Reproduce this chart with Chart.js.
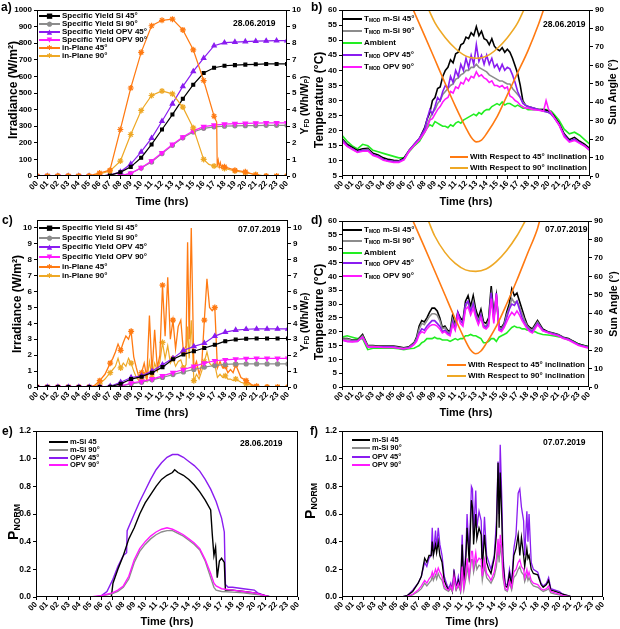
<!DOCTYPE html>
<html>
<head>
<meta charset="utf-8">
<script src="https://cdn.jsdelivr.net/npm/chart.js@4.4.1/dist/chart.umd.min.js"></script>
<style>
  body { margin: 0; background: #fff; }
  #fig { position: relative; width: 620px; height: 629px; overflow: hidden; background: #fff;
         font-family: Arial, "Liberation Sans", sans-serif; font-weight: bold; color: #000; }
  #fig canvas { position: absolute; }
  .t { position: absolute; white-space: nowrap; line-height: 1; }
  .v { transform: translate(-50%, -50%) rotate(-90deg); }
  .h { transform: translate(-50%, -50%); }
  .r { transform: translateY(-50%); }
  sub { font-size: 62%; vertical-align: -0.25em; line-height: 0; }
</style>
</head>
<body>
<div id="fig">
  <canvas id="ca" width="310" height="207" style="left:0;top:0"></canvas>
  <canvas id="cb" width="310" height="207" style="left:310px;top:0"></canvas>
  <canvas id="cc" width="310" height="208" style="left:0;top:207px"></canvas>
  <canvas id="cd" width="310" height="208" style="left:310px;top:207px"></canvas>
  <canvas id="ce" width="310" height="214" style="left:0;top:415px"></canvas>
  <canvas id="cf" width="310" height="214" style="left:310px;top:415px"></canvas>
</div>
<script>
// ---- tick labels / categories ----
const hourLabels = ['00','01','02','03','04','05','06','07','08','09','10','11','12',
                    '13','14','15','16','17','18','19','20','21','22','23','00'];
const hours = [0,1,2,3,4,5,6,7,8,9,10,11,12,13,14,15,16,17,18,19,20,21,22,23,24];
const yTicksC = [0,1,2,3,4,5,6,7,8,9,10];

const yieldLabels = ['Specific Yield Si 45°','Specific Yield Si 90°','Specific Yield OPV 45°',
                     'Specific Yield OPV 90°','in-Plane 45°','in-Plane 90°'];
const tempLabels = ['T<sub>MOD</sub> m-Si 45°','T<sub>MOD</sub> m-Si 90°','Ambient',
                    'T<sub>MOD</sub> OPV 45°','T<sub>MOD</sub> OPV 90°'];
const sunLabels = ['With Respect to 45° inclination','With Respect to 90° inclination'];
const powerLabels = ['m-Si 45','m-Si 90°','OPV 45°','OPV 90°'];
const dates = ['28.06.2019','07.07.2019'];

// ---- a) 28.06 yields (right axis) and in-plane irradiance (left axis) ----
const yieldSi45A  = [0,0,0,0,0,0,0,0.05,0.22,0.55,1.1,1.9,2.8,3.7,4.65,5.5,6.2,6.52,6.64,6.68,6.71,6.73,6.75,6.75,6.75];
const yieldSi90A  = [0,0,0,0,0,0,0,0,0.03,0.15,0.48,0.85,1.35,1.85,2.3,2.65,2.87,2.96,3.0,3.02,3.03,3.04,3.05,3.05,3.05];
const yieldOpv45A = [0,0,0,0,0,0,0,0.05,0.25,0.72,1.45,2.28,3.3,4.35,5.4,6.3,7.1,7.85,8.03,8.07,8.1,8.12,8.14,8.15,8.15];
const yieldOpv90A = [0,0,0,0,0,0,0,0,0.03,0.16,0.5,0.9,1.4,1.9,2.35,2.72,2.97,3.06,3.12,3.15,3.17,3.19,3.2,3.2,3.2];
const irrTime45A = [0,1,2,3,4,5,5.5,6,7,8,9,10,11,12,13,14,15,16,17,17.25,17.3,17.4,17.5,17.6,17.7,17.8,18,19,20,21,22,23,24];
const irr45A     = [0,0,0,0,0,0,10,18,35,280,530,745,905,938,945,880,760,575,360,325,60,95,55,80,50,65,55,35,25,6,0,0,0];
const irrTime90A = [0,1,2,3,4,5,5.5,6,7,8,9,10,11,12,13,14,15,16,16.5,17,18,19,20,21,22,23,24];
const irr90A     = [0,0,0,0,0,0,5,12,30,90,250,395,485,512,495,415,290,100,70,60,45,30,20,9,0,0,0];

// ---- b) 28.06 module temperatures and sun angle ----
const timeB = [0,0.5,1,1.5,2,2.5,3,3.5,4,4.5,5,5.5,6,6.5,7,7.5,8,
  8.25,8.5,8.75,9,9.25,9.5,9.75,10,10.25,10.5,10.75,11,11.25,11.5,11.75,12,12.25,12.5,12.75,13,
  13.25,13.5,13.75,14,14.25,14.5,14.75,15,15.25,15.5,15.75,16,16.25,16.5,16.75,17,17.25,17.5,17.75,18,
  18.5,19,19.5,19.75,20,20.25,20.5,21,21.5,22,22.5,23,23.5,24];
const tSi45B = [17.4,15.5,14.5,13.5,14,14.2,12.5,12,11,10.5,10.2,10,11,13.5,15.5,17.5,21,
  24,26,30,31,34,34.5,38,40,41,43.5,42.5,45.5,46,48.5,49,51,50.5,52.5,51.5,54.5,
  51.5,53,50.5,50,48.5,50.5,48,47,46.5,47.5,46,47,46,44,41.5,39,35,30,28.5,28,
  27.5,27,27,26.8,26.5,26,25,22.5,19,17,17.8,16.5,15.5,14];
const tSi90B = [17,15,14,13,13.5,13.8,12,11.5,10.5,10,9.8,9.8,10.5,13.5,15.5,17.5,20,
  22,24,26,27,29,30,32,33,34,35,35.5,37,37.5,38.5,39,40,40,41,41,42,
  41,40.5,40,39.5,38.5,38,37.5,37,36.5,36.5,36,35.5,35.5,34,33,32,31,29.5,28.5,28,
  27.5,27,26.5,26.3,26,25.5,24.5,22,18.5,16.5,17.2,16,15,13.5];
const tAmbB = [18.5,16.5,15,14,15.5,15,13.5,13,12.5,12,11.5,11,11,13,15,16.5,19.5,
  21,22,21.5,23,22.5,22,21.5,21.5,21,22,21.5,22.5,23,22.5,23.5,24,24.5,25,25.5,25,
  26,25.5,26.5,27,27,28,28.5,29,28.5,29.5,28.5,29,29,28.5,28,28.5,28,27.5,27.5,27,
  27,27,27,27,26.8,26.5,25.5,23.5,20.5,19,19.5,18.5,17,15.5];
const tOpv45B = [17,15,14,13,13.5,13.5,12,11.5,10.5,10,9.8,9.8,10.5,13.5,15.5,17.5,20.5,
  24,27,25.5,28,31,30,33,35,34,38,36,40,38,42,40,44,41,45,42,48.5,
  43,45,42,45,42,44,41,42,40,42,40,41,40.5,38.5,36,33,31,29,28.5,28,
  27.5,27,26.5,26.3,26,25.5,24.5,22,18.5,16.5,17.2,16,15,13.5];
const tOpv90B = [16.5,14.8,13.8,12.8,13.2,13.3,11.8,11.2,10.2,9.8,9.5,9.5,10.3,13.2,15.2,17,19.5,
  21,23.5,24,25.5,27,28,29.5,30.5,31,33,32.5,34.5,34,36,35.5,37.5,36.5,38,37.5,39.5,
  38,38.5,37.5,37,36,36.5,35,35,34.5,35,34,34.5,31.5,31,30,29.5,28.5,28,27.5,27.5,
  27,26.8,26.5,30,27,26,24.5,22,18,16.2,16.8,15.8,14.8,13.5];
const sunTime45B = [6.9,8,9,10,11,12,12.5,13,13.5,14,15,16,17,18,19,19.5];
const sun45B     = [90,76,63,50,37.5,26,21,18.5,19.5,23,32,44,56,68,82,90];
const sunTime90B = [8.4,9,10,11,12,13,14,15,16,17,17.6];
const sun90B     = [90,83,75,69,65,63.8,65,69,75,83,90];

// ---- c) 07.07 yields and in-plane irradiance ----
const yieldSi45C  = [0,0,0,0,0,0,0,0.02,0.2,0.5,0.65,0.9,1.25,1.75,2.05,2.25,2.45,2.65,2.88,2.98,3.03,3.05,3.05,3.05,3.05];
const yieldSi90C  = [0,0,0,0,0,0,0,0,0.05,0.2,0.3,0.45,0.6,0.78,0.95,1.1,1.25,1.35,1.42,1.45,1.45,1.45,1.45,1.45,1.45];
const yieldOpv45C = [0,0,0,0,0,0,0,0.05,0.3,0.6,0.7,1.0,1.4,1.8,2.3,2.55,2.75,3.2,3.45,3.58,3.63,3.65,3.65,3.65,3.65];
const yieldOpv90C = [0,0,0,0,0,0,0,0,0.05,0.25,0.35,0.5,0.7,0.9,1.1,1.3,1.5,1.65,1.7,1.75,1.78,1.8,1.8,1.8,1.8];
const timeC = [0,1,2,3,4,5,5.5,6,6.5,7,
  7.25,7.5,7.75,8,8.25,8.5,8.75,9,9.25,9.5,9.75,10,10.25,10.5,10.75,11,11.25,11.5,11.75,12,
  12.25,12.5,12.75,13,13.25,13.5,13.75,14,14.25,14.4,14.55,14.75,15,15.25,15.5,15.75,16,16.25,16.5,16.75,
  17,17.25,17.5,17.75,18,18.25,18.5,18.75,19,19.5,20,20.5,21,21.5,22,23,24];
const irr45C = [0,0,0,0,0,0,0.1,0.4,0.8,1.5,
  1.8,2.2,2.7,2.3,2.8,3.2,3.0,3.5,1.9,1.2,0.6,0.9,1.5,0.6,4.5,0.9,3.6,1.2,2.0,6.4,
  3.2,6.9,3.0,4.2,2.4,3.8,4.2,2.2,2.6,9.1,3.0,10.0,1.2,1.6,0.8,1.4,4.2,6.8,5.0,4.8,
  5.0,1.2,1.6,1.2,1.3,0.9,1.1,0.9,1.4,0.6,0.4,0.15,0.05,0,0,0,0];
const irr90C = [0,0,0,0,0,0,0.05,0.2,0.5,0.9,
  1.1,1.3,1.8,1.2,1.5,1.3,1.8,1.5,1.0,0.6,0.4,0.5,0.9,0.4,1.6,0.6,1.5,1.0,1.6,2.8,
  1.8,2.6,1.5,1.8,1.3,1.6,1.7,1.2,1.4,3.8,1.8,4.2,0.4,0.8,0.5,1.0,1.6,2.2,1.5,1.3,
  1.4,0.6,0.8,0.6,0.7,0.5,0.5,0.4,0.5,0.3,0.2,0.1,0.03,0,0,0,0];

// ---- d) 07.07 module temperatures and sun angle ----
const timeD = [0,0.5,1,1.5,2,2.5,3,3.5,4,4.5,5,5.5,6,6.5,7,
  7.25,7.5,7.75,8,8.25,8.5,8.75,9,9.25,9.5,9.75,10,10.25,10.5,10.75,11,11.25,11.5,11.75,12,
  12.25,12.5,12.75,13,13.25,13.5,13.75,14,14.25,14.5,14.75,15,15.25,15.5,15.75,16,16.25,16.5,16.75,17,
  17.25,17.5,17.75,18,18.25,18.5,18.75,19,19.5,20,20.5,21,21.5,22,22.5,23,23.5,24];
const tSi45D = [17.5,17.5,17,17,19,15,15,14.8,14.8,14.8,14.8,14.5,14.2,14.5,16,
  18,22,24,23.5,25,27,28.5,28.5,27.5,25,21.5,22,20.5,20,26,22,27,25,24,31,
  33,29,33,28,25,28,23.5,23,25,36.5,26,33,22,21.5,23,27,30,35.5,33,34,
  31,28,25,22.5,21.5,21,22.5,24,21,20,19.5,19,18,17.5,16.5,15.5,15,14.5];
const tSi90D = [17.3,17.3,16.8,16.8,18.5,14.8,14.8,14.6,14.6,14.6,14.6,14.3,14,14.3,15.8,
  17.5,21,23,22.5,24,25.5,26.5,26.5,26,24,21,21.5,20,19.5,24.5,21.5,26,24,23,29,
  31,27.5,31,26.5,24,26.5,22.5,22,24,33,25,31,21.5,21,22.5,26,28.5,32,30.5,31,
  29,26.5,24,22,21,20.5,22,23.5,20.5,19.8,19.3,18.8,17.8,17.3,16.3,15.3,14.8,14.3];
const tAmbD = [18,18.5,18,17.5,17.5,13.5,14,14,14,14,14,13.8,13.5,13.8,14,
  14.5,15,16,16.5,17.5,17.5,17.5,18,17.5,17.5,17,17,17,16.5,17,17.5,17,17.5,17.5,18.5,
  18.5,19,18.5,18.5,18,17.5,16,16,16.5,17.5,17.5,16.5,18,18.5,19,19.5,20.5,21.5,22,21.5,
  21.5,21,21,20.5,20.5,20,20,19.5,19,18.8,18.5,18.2,17.8,17,16.5,15.5,15,14.5];
const tOpv45D = [17,16.5,16.5,16.5,18,14.5,14.5,14.5,14.5,14.5,14.5,14,13.8,14.2,15.5,
  17,19.5,21,20.5,22,23,24,24,23,22,20,20.5,19.5,19,23.5,21,27,24,23,30,
  31,27,30,26,23,26,22,21.5,23,34,24,34,21,20.5,22,25,28,30,29.5,31,
  28,25,23,21.5,20.5,20,21.5,23,20.5,19.8,19.2,18.7,17.7,17.2,16.2,15.2,14.7,14.2];
const tOpv90D = [17,16.5,16.3,16.5,18,14.5,14.5,14.5,14.3,14.3,14.3,14,13.8,14,15.3,
  16.5,19,20,19.5,21,22,22.5,22.5,22,21,19.5,20,19,18.5,22.5,20.5,26,23,22,28,
  29,26,28.5,25,22.5,25,21.5,21,22,32,23,33.5,20.5,20,21.5,23.5,25.5,27,26,27.5,
  26,24,22.5,21,20,19.5,21,22.5,20.3,19.6,19,18.5,17.5,17,16,15,14.5,14];
const sunTime45D = [6.9,8,9,10,11,12,12.5,13,13.5,14,15,16,17,18,19,19.2];
const sun45D     = [90,76,63,50,37,25,20,18,19.5,23.5,33,45,58,72,86,90];
const sunTime90D = [8.4,9,10,11,12,13,14,15,16,17,17.8];
const sun90D     = [90,82,73,67,63.5,62.7,64,68,74,82,90];

// ---- e) 28.06 normalised power ----
const timeOpv45E = [0,5.5,6,6.5,7,7.5,8,8.3,8.35,9,9.5,10,10.5,11,11.5,12,12.5,13,13.5,14,14.5,15,15.5,16,16.5,17,17.25,17.35,17.6,18,19,20,20.3,21,21.5,24];
const pOpv45E    = [0,0,0.01,0.04,0.12,0.22,0.3,0.32,0.48,0.6,0.69,0.77,0.85,0.92,0.97,1.01,1.03,1.03,1.01,0.98,0.95,0.91,0.85,0.78,0.69,0.57,0.47,0.09,0.07,0.07,0.06,0.05,0.03,0.01,0,0];
const timeSi45E  = [0,6.9,7.05,7.5,8,8.5,9,9.5,10,10.5,11,11.5,12,12.5,12.7,13,13.5,14,14.5,15,15.5,16,16.15,16.3,16.45,16.6,16.8,17,17.25,17.35,18,19,20,21,21.5,24];
const pSi45E     = [0,0,0.1,0.2,0.3,0.42,0.5,0.6,0.68,0.74,0.8,0.85,0.88,0.9,0.92,0.9,0.88,0.85,0.81,0.76,0.7,0.63,0.45,0.3,0.36,0.14,0.26,0.28,0.25,0.05,0.05,0.04,0.03,0.01,0,0];
const time90E    = [0,5,5.5,6,6.5,7,7.5,8,8.5,9,9.5,10,10.5,11,11.5,12,12.5,13,13.5,14,14.5,15,15.5,16,16.3,16.5,17,18,19,20,20.5,21,21.5,24];
const pOpv90E    = [0,0,0.005,0.01,0.02,0.03,0.05,0.08,0.15,0.27,0.35,0.4,0.44,0.47,0.49,0.5,0.49,0.47,0.45,0.42,0.39,0.35,0.27,0.17,0.1,0.08,0.06,0.05,0.04,0.03,0.02,0.01,0,0];
const pSi90E     = [0,0,0.003,0.008,0.015,0.025,0.04,0.07,0.13,0.25,0.33,0.38,0.42,0.45,0.47,0.48,0.48,0.46,0.44,0.41,0.38,0.34,0.26,0.14,0.07,0.05,0.04,0.035,0.03,0.02,0.015,0.005,0,0];

// ---- f) 07.07 normalised power ----
const timeF = [0,5.5,6,6.5,7,7.3,7.6,7.8,8,8.2,8.3,8.4,8.6,8.7,8.85,9,9.2,9.4,9.6,9.8,10,10.15,
  10.3,10.5,10.7,10.9,11.05,11.2,11.4,11.5,11.7,11.9,12.0,12.1,12.3,12.4,12.6,12.8,12.9,13.1,13.3,13.5,
  13.7,14.0,14.2,14.35,14.45,14.55,14.7,14.8,15.0,15.2,15.4,15.6,15.8,16.0,16.2,16.35,16.5,16.7,16.8,17.0,
  17.1,17.2,17.4,17.6,18.0,18.3,18.5,18.8,19.0,19.2,19.6,20.0,20.3,21.0,21.3,24];
const pOpv45F = [0,0,0.01,0.05,0.1,0.15,0.25,0.22,0.28,0.3,0.5,0.3,0.48,0.35,0.5,0.38,0.3,0.15,0.1,0.06,0.1,0.05,
  0.2,0.07,0.15,0.06,0.45,0.1,0.35,0.6,0.3,0.8,0.78,0.45,0.77,0.5,0.62,0.55,0.25,0.58,0.3,0.25,
  0.2,0.3,0.55,0.98,0.6,1.1,0.7,0.3,0.1,0.08,0.2,0.1,0.35,0.45,0.75,0.78,0.65,0.55,0.3,0.62,
  0.4,0.6,0.25,0.2,0.18,0.1,0.08,0.1,0.14,0.06,0.05,0.04,0.02,0.005,0,0];
const pSi45F = [0,0,0.01,0.04,0.1,0.15,0.28,0.25,0.3,0.3,0.4,0.3,0.38,0.32,0.4,0.3,0.25,0.12,0.08,0.05,0.08,0.04,
  0.17,0.06,0.12,0.05,0.38,0.08,0.3,0.5,0.25,0.7,0.65,0.38,0.6,0.42,0.5,0.45,0.2,0.45,0.25,0.2,
  0.17,0.28,0.45,0.97,0.5,0.9,0.55,0.25,0.08,0.07,0.17,0.08,0.3,0.35,0.45,0.3,0.43,0.3,0.22,0.35,
  0.28,0.3,0.2,0.17,0.16,0.09,0.07,0.09,0.12,0.05,0.04,0.03,0.02,0.005,0,0];
const pOpv90F = [0,0,0.005,0.02,0.05,0.08,0.12,0.1,0.13,0.15,0.18,0.15,0.2,0.17,0.21,0.18,0.15,0.08,0.06,0.05,0.08,0.05,
  0.15,0.06,0.1,0.05,0.22,0.07,0.18,0.28,0.15,0.33,0.33,0.22,0.32,0.25,0.28,0.27,0.15,0.27,0.17,0.15,
  0.12,0.18,0.28,0.42,0.3,0.45,0.35,0.18,0.06,0.05,0.12,0.07,0.18,0.2,0.25,0.27,0.22,0.2,0.14,0.2,
  0.15,0.18,0.12,0.1,0.09,0.06,0.05,0.06,0.08,0.04,0.03,0.02,0.01,0.003,0,0];
const pSi90F = [0,0,0.004,0.015,0.04,0.06,0.1,0.08,0.1,0.12,0.15,0.12,0.16,0.13,0.17,0.14,0.12,0.06,0.05,0.04,0.06,0.04,
  0.12,0.05,0.08,0.04,0.18,0.05,0.14,0.22,0.12,0.27,0.27,0.18,0.26,0.2,0.23,0.22,0.12,0.22,0.14,0.12,
  0.1,0.15,0.22,0.35,0.25,0.38,0.28,0.14,0.05,0.04,0.1,0.05,0.14,0.16,0.2,0.22,0.18,0.16,0.11,0.16,
  0.12,0.14,0.1,0.08,0.07,0.05,0.04,0.05,0.06,0.03,0.02,0.015,0.008,0.002,0,0];

// ---- styling ----
const COL = { black: '#000000', grey: '#8c8c8c', purple: '#8a1cf0', magenta: '#ff1aff',
              orange: '#ff7a12', gold: '#eea825', green: '#22ee22' };
const FONT = 'Arial, "Liberation Sans", sans-serif';
const xTickFont = { family: FONT, size: 8, weight: 'bold' };
const yTickFont = { family: FONT, size: 8, weight: 'bold' };
const pTickFont = { family: FONT, size: 8.5, weight: 'bold' };

const pts = (xs, ys) => xs.map((x, i) => ({ x, y: ys[i] }));
const onHour = r => c => (c.raw && Number.isInteger(c.raw.x)) ? r : 0;

function line(xs, ys, color, axis, width, extra) {
  return Object.assign({
    data: pts(xs, ys), borderColor: color, backgroundColor: color,
    borderWidth: width, pointRadius: 0, yAxisID: axis, tension: 0, fill: false
  }, extra || {});
}

const framePlugin = {
  id: 'frame',
  afterDraw(chart) {
    const a = chart.chartArea, ctx = chart.ctx;
    ctx.save();
    ctx.strokeStyle = '#000';
    ctx.lineWidth = 1;
    ctx.strokeRect(Math.round(a.left) + 0.5, Math.round(a.top) + 0.5,
                   Math.round(a.right - a.left) - 1, Math.round(a.bottom - a.top) - 1);
    ctx.restore();
  }
};

function xScale(h) {
  return {
    type: 'linear', min: 0, max: 24,
    afterFit: s => { s.height = h; },
    ticks: { stepSize: 1, maxTicksLimit: 40, autoSkip: false, minRotation: 45, maxRotation: 45,
             padding: 0, font: xTickFont, color: '#000', callback: v => hourLabels[v] },
    grid: { drawOnChartArea: false, drawTicks: true, tickLength: 3, color: '#000' },
    border: { display: false }
  };
}

function yScale(pos, min, max, step, w, opts) {
  opts = opts || {};
  return {
    type: 'linear', position: pos, min, max,
    afterFit: s => { s.width = w; },
    afterBuildTicks: opts.ticks ? s => { s.ticks = opts.ticks.map(v => ({ value: v })); } : undefined,
    ticks: { stepSize: step, maxTicksLimit: 40, padding: 2, font: opts.font || yTickFont, color: '#000',
             callback: opts.fmt || (v => v) },
    grid: { drawOnChartArea: false, drawTicks: true, tickLength: 3, color: '#000' },
    border: { display: false }
  };
}

function makeChart(id, datasets, scales, pad) {
  return new Chart(document.getElementById(id), {
    type: 'line',
    data: { datasets },
    options: {
      responsive: false, animation: false, devicePixelRatio: 1, events: [],
      layout: { padding: pad },
      plugins: { legend: { display: false }, tooltip: { enabled: false } },
      scales
    },
    plugins: [framePlugin]
  });
}

// a)
makeChart('ca', [
  line(irrTime45A, irr45A, COL.orange, 'y', 1.2, { pointStyle: 'star', pointRadius: onHour(3) }),
  line(irrTime90A, irr90A, COL.gold, 'y', 1.2, { pointStyle: 'star', pointRadius: onHour(3) }),
  line(hours, yieldSi45A, COL.black, 'y1', 1.2, { pointStyle: 'rect', pointRadius: 2 }),
  line(hours, yieldOpv45A, COL.purple, 'y1', 1.2, { pointStyle: 'triangle', pointRadius: 2.5 }),
  line(hours, yieldOpv90A, COL.magenta, 'y1', 1.2, { pointStyle: 'triangle', rotation: 180, pointRadius: 2.5 }),
  line(hours, yieldSi90A, COL.grey, 'y1', 1.2, { pointStyle: 'circle', pointRadius: 2 })
], {
  x: xScale(31),
  y: yScale('left', 0, 1000, 100, 37),
  y1: yScale('right', 0, 10, 1, 23)
}, { top: 10, left: 0, right: 0, bottom: 0 });

// b)
makeChart('cb', [
  line(sunTime45B, sun45B, COL.orange, 'y1', 1.6, { cubicInterpolationMode: 'monotone' }),
  line(sunTime90B, sun90B, COL.gold, 'y1', 1.6, { cubicInterpolationMode: 'monotone' }),
  line(timeB, tOpv90B, COL.magenta, 'y', 1.6),
  line(timeB, tOpv45B, COL.purple, 'y', 1.6),
  line(timeB, tSi90B, COL.grey, 'y', 1.6),
  line(timeB, tSi45B, COL.black, 'y', 1.6),
  line(timeB, tAmbB, COL.green, 'y', 1.6)
], {
  x: xScale(31),
  y: yScale('left', 5, 60, 5, 32),
  y1: yScale('right', 0, 90, 10, 30)
}, { top: 10, left: 0, right: 0, bottom: 0 });

// c)
makeChart('cc', [
  line(hours, yieldSi45C, COL.black, 'y1', 1.2, { pointStyle: 'rect', pointRadius: 2 }),
  line(hours, yieldOpv45C, COL.purple, 'y1', 1.2, { pointStyle: 'triangle', pointRadius: 2.5 }),
  line(hours, yieldOpv90C, COL.magenta, 'y1', 1.2, { pointStyle: 'triangle', rotation: 180, pointRadius: 2.5 }),
  line(hours, yieldSi90C, COL.grey, 'y1', 1.2, { pointStyle: 'circle', pointRadius: 2 }),
  line(timeC, irr45C, COL.orange, 'y', 1.3, { pointStyle: 'star', pointRadius: onHour(3) }),
  line(timeC, irr90C, COL.gold, 'y', 1.2, { pointStyle: 'star', pointRadius: onHour(3) })
], {
  x: xScale(28),
  y: yScale('left', 0, 10.5, 1, 37, { ticks: yTicksC }),
  y1: yScale('right', 0, 10.5, 1, 22, { ticks: yTicksC })
}, { top: 13, left: 0, right: 0, bottom: 0 });

// d)
makeChart('cd', [
  line(sunTime45D, sun45D, COL.orange, 'y1', 1.6, { cubicInterpolationMode: 'monotone' }),
  line(sunTime90D, sun90D, COL.gold, 'y1', 1.6, { cubicInterpolationMode: 'monotone' }),
  line(timeD, tOpv90D, COL.magenta, 'y', 1.6),
  line(timeD, tOpv45D, COL.purple, 'y', 1.6),
  line(timeD, tSi90D, COL.grey, 'y', 1.6),
  line(timeD, tSi45D, COL.black, 'y', 1.6),
  line(timeD, tAmbD, COL.green, 'y', 1.6)
], {
  x: xScale(28),
  y: yScale('left', 0, 60, 5, 32),
  y1: yScale('right', 0, 90, 10, 31)
}, { top: 14, left: 0, right: 0, bottom: 0 });

// e)
const fmt1 = v => v.toFixed(1);
makeChart('ce', [
  line(time90E, pOpv90E, COL.magenta, 'y', 1.4),
  line(time90E, pSi90E, COL.grey, 'y', 1.4),
  line(timeSi45E, pSi45E, COL.black, 'y', 1.4),
  line(timeOpv45E, pOpv45E, COL.purple, 'y', 1.4)
], {
  x: xScale(32),
  y: yScale('left', 0, 1.2, 0.2, 36, { fmt: fmt1, font: pTickFont })
}, { top: 16, left: 0, right: 12, bottom: 0 });

// f)
makeChart('cf', [
  line(timeF, pOpv90F, COL.magenta, 'y', 1.3),
  line(timeF, pSi90F, COL.grey, 'y', 1.3),
  line(timeF, pSi45F, COL.black, 'y', 1.3),
  line(timeF, pOpv45F, COL.purple, 'y', 1.3)
], {
  x: xScale(32),
  y: yScale('left', 0, 1.2, 0.2, 32, { fmt: fmt1, font: pTickFont })
}, { top: 16, left: 0, right: 17, bottom: 0 });

// ---- text overlays ----
const fig = document.getElementById('fig');
function txt(x, y, html, size, cls) {
  const d = document.createElement('div');
  d.className = 't ' + (cls || '');
  d.style.left = x + 'px';
  d.style.top = y + 'px';
  d.style.fontSize = size + 'px';
  d.innerHTML = html;
  fig.appendChild(d);
  return d;
}
function legend(x, ys, len, lw, size, labels, colors, marks) {
  labels.forEach((lab, i) => {
    const y = ys[i];
    const l = document.createElement('div');
    l.style.cssText = `position:absolute;left:${x}px;top:${y - lw / 2}px;width:${len}px;height:${lw}px;background:${colors[i]}`;
    fig.appendChild(l);
    if (marks) {
      const m = txt(x + len / 2, y, marks[i], 7, 'h');
      m.style.color = colors[i];
      m.style.fontFamily = '"DejaVu Sans", sans-serif';
      m.style.fontWeight = 'normal';
    }
    txt(x + len + 2, y, lab, size, 'r');
  });
}

// panel letters
[['a)', 1, 1], ['b)', 311, 1], ['c)', 2, 214], ['d)', 311, 214], ['e)', 2, 425], ['f)', 310, 425]]
  .forEach(p => txt(p[1], p[2], p[0], 12));

// dates
txt(233, 23, dates[0], 8.5, 'r');
txt(543, 24, dates[0], 8.5, 'r');
txt(238, 229, dates[1], 8.5, 'r');
txt(545, 229, dates[1], 8.5, 'r');
txt(240, 443, dates[0], 8.5, 'r');
txt(543, 442, dates[1], 8.5, 'r');

// legends
const yieldCols = [COL.black, COL.grey, COL.purple, COL.magenta, COL.orange, COL.gold];
const yieldMarks = ['■', '●', '▲', '▼', '✱', '✱'];
const tempCols = [COL.black, COL.grey, COL.green, COL.purple, COL.magenta];
const sunCols = [COL.orange, COL.gold];
const powCols = [COL.black, COL.grey, COL.purple, COL.magenta];
legend(39, [16, 24, 32, 40, 48, 56], 21, 1.2, 8, yieldLabels, yieldCols, yieldMarks);
legend(343, [19, 31, 43, 55, 67], 19, 2, 8, tempLabels, tempCols);
legend(450, [157, 168], 18, 2, 8, sunLabels, sunCols);
legend(39, [228, 238, 247, 257, 267, 276], 21, 1.2, 8, yieldLabels, yieldCols, yieldMarks);
legend(343, [230, 241, 253, 263, 276], 19, 2, 8, tempLabels, tempCols);
legend(447, [365, 376], 19, 2, 8, sunLabels, sunCols);
legend(49, [442, 450, 458, 465], 19, 1.5, 7.5, powerLabels, powCols);
legend(352, [440, 448, 457, 465], 18, 1.5, 7.5, powerLabels, powCols);

// axis titles
const irrTitle = 'Irradiance (W/m²)';
const yfdTitle = 'Y<sub>FD</sub> (Wh/W<sub>P</sub>)';
const tempTitle = 'Temperature (°C)';
const sunTitle = 'Sun Angle (°)';
const timeTitle = 'Time (hrs)';
const pTitle = 'P<sub style="font-size:62%">NORM</sub>';
txt(13, 90, irrTitle, 12, 'v');
txt(304, 105, yfdTitle, 10.5, 'v');
txt(162, 201, timeTitle, 11, 'h');
txt(319, 100, tempTitle, 12, 'v');
txt(612, 92, sunTitle, 10.5, 'v');
txt(466, 201, timeTitle, 11, 'h');
txt(17, 304, irrTitle, 12, 'v');
txt(304, 322, yfdTitle, 10.5, 'v');
txt(162, 412, timeTitle, 11, 'h');
txt(319, 312, tempTitle, 12, 'v');
txt(613, 304, sunTitle, 10.5, 'v');
txt(466, 412, timeTitle, 11, 'h');
txt(13, 522, pTitle, 14, 'v');
txt(167, 621, timeTitle, 11, 'h');
txt(310, 501, pTitle, 14, 'v');
txt(472, 621, timeTitle, 11, 'h');
</script>
</body>
</html>
